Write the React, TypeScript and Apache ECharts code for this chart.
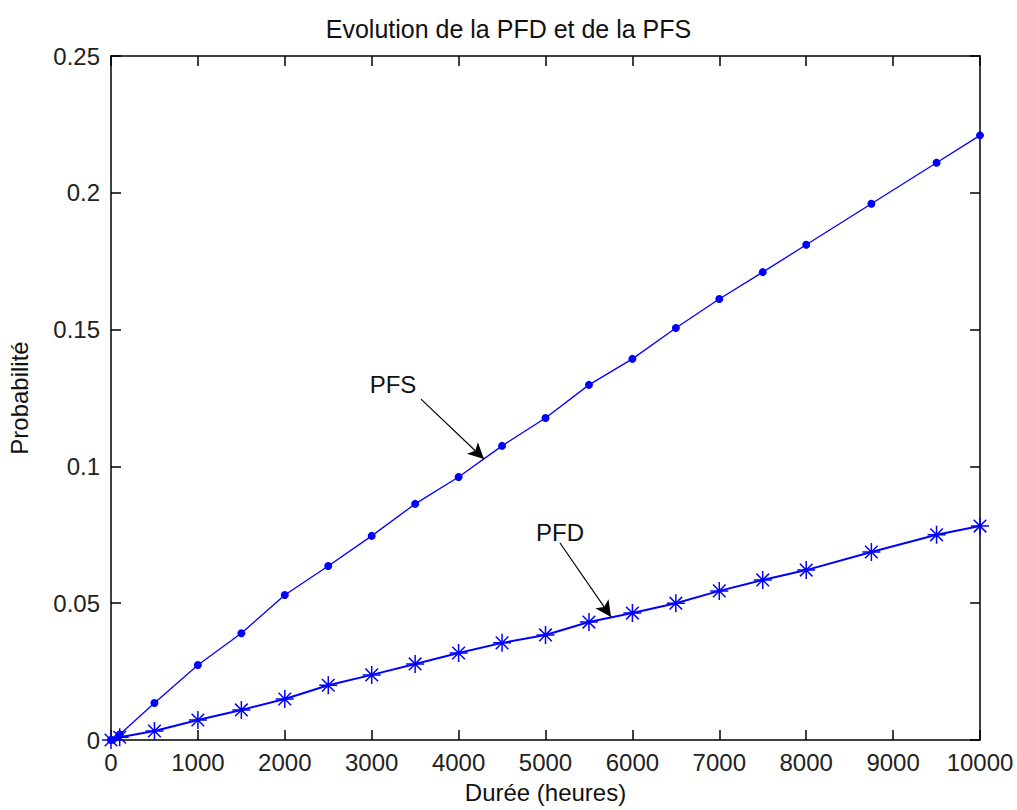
import React, { useEffect, useRef } from "react";
import * as echarts from "echarts";

const hours = [0, 100, 500, 1000, 1500, 2000, 2500, 3000, 3500, 4000, 4500, 5000, 5500, 6000, 6500, 7000, 7500, 8000, 8750, 9500, 10000];
const pfs = [0, 0.002, 0.0135, 0.0274, 0.039, 0.053, 0.0636, 0.0746, 0.0863, 0.0961, 0.1075, 0.1177, 0.1298, 0.1393, 0.1506, 0.1612, 0.171, 0.181, 0.196, 0.211, 0.221];
const pfd = [0, 0.001, 0.0033, 0.0073, 0.011, 0.015, 0.02, 0.0238, 0.0278, 0.0318, 0.0355, 0.0384, 0.0431, 0.0464, 0.05, 0.0545, 0.0585, 0.0621, 0.0687, 0.075, 0.0782];

const titleText = "Evolution de la PFD et de la PFS";
const xName = "Durée (heures)";
const yName = "Probabilité";

const annPFS = { label: "PFS", lx: 3245, ly: 0.1298, fx: 3567, fy: 0.1246, tx: 4292, ty: 0.1027 };
const annPFD = { label: "PFD", lx: 5167, ly: 0.0757, fx: 5167, fy: 0.072, tx: 5754, ty: 0.045 };

const FONT = "'Liberation Sans', Arial, sans-serif";
const BLUE = "#0000ff";
const STAR = "path://M0,-10L0,10M-10,0L10,0M-7,-7L7,7M-7,7L7,-7";

export default function App() {
  const ref = useRef<HTMLDivElement>(null);
  useEffect(() => {
    if (!ref.current) return;
    const chart = echarts.init(ref.current, undefined, { renderer: "svg" });
    const axisLine = { show: true, onZero: false, lineStyle: { color: "#000", width: 1.5 } };
    const tick = { show: true, inside: true, length: 10, lineStyle: { color: "#000", width: 1.5 } };
    const labelStyle = { color: "#222", fontSize: 24, fontFamily: FONT };
    const mkAnn = (a: typeof annPFS) => ({
      markLine: {
        silent: true,
        symbol: ["none", "arrow"],
        symbolSize: [12, 16],
        label: { show: false },
        lineStyle: { color: "#000", width: 1.2, type: "solid" },
        data: [[{ coord: [a.fx, a.fy] }, { coord: [a.tx, a.ty] }]],
      },
      markPoint: {
        silent: true,
        symbol: "rect",
        symbolSize: 1,
        itemStyle: { color: "rgba(0,0,0,0)" },
        data: [{ coord: [a.lx, a.ly], value: a.label }],
        label: { show: true, formatter: a.label, color: "#111", fontSize: 24, fontFamily: FONT, position: "inside" },
      },
    });
    chart.setOption({
      animation: false,
      backgroundColor: "#fff",
      title: {
        text: titleText,
        left: "center",
        top: 11,
        textStyle: { color: "#111", fontSize: 25, fontWeight: "normal", fontFamily: FONT },
      },
      grid: { left: 111, right: 37, top: 56, bottom: 70, outerBoundsMode: "none", containLabel: false },
      xAxis: [
        {
          type: "value", min: 0, max: 10000, interval: 1000,
          name: xName, nameLocation: "middle", nameGap: 40,
          nameTextStyle: { color: "#111", fontSize: 24, fontFamily: FONT },
          axisLine, axisTick: tick, splitLine: { show: false },
          axisLabel: { ...labelStyle, margin: 10, formatter: (v: number) => String(v) },
        },
        {
          type: "value", min: 0, max: 10000, interval: 1000, position: "top",
          axisLine, axisTick: tick, splitLine: { show: false }, axisLabel: { show: false },
        },
      ],
      yAxis: [
        {
          type: "value", min: 0, max: 0.25, interval: 0.05,
          name: yName, nameLocation: "middle", nameGap: 80,
          nameTextStyle: { color: "#111", fontSize: 24, fontFamily: FONT },
          axisLine, axisTick: tick, splitLine: { show: false },
          axisLabel: { ...labelStyle, margin: 11, formatter: (v: number) => String(+v.toFixed(2)) },
        },
        {
          type: "value", min: 0, max: 0.25, interval: 0.05, position: "right",
          axisLine, axisTick: tick, splitLine: { show: false }, axisLabel: { show: false },
        },
      ],
      series: [
        {
          name: "PFS", type: "line",
          data: hours.map((h, i) => [h, pfs[i]]),
          symbol: "circle", symbolSize: 8,
          lineStyle: { color: BLUE, width: 1.3 },
          itemStyle: { color: BLUE },
          ...mkAnn(annPFS),
        },
        {
          name: "PFD", type: "line",
          data: hours.map((h, i) => [h, pfd[i]]),
          symbol: STAR, symbolSize: 18,
          lineStyle: { color: BLUE, width: 2 },
          itemStyle: { color: BLUE, borderColor: BLUE, borderWidth: 1.5 },
          ...mkAnn(annPFD),
        },
      ],
    });
    return () => chart.dispose();
  }, []);
  return <div ref={ref} style={{ width: 1017, height: 810, position: "absolute", left: 0, top: 0 }} />;
}
